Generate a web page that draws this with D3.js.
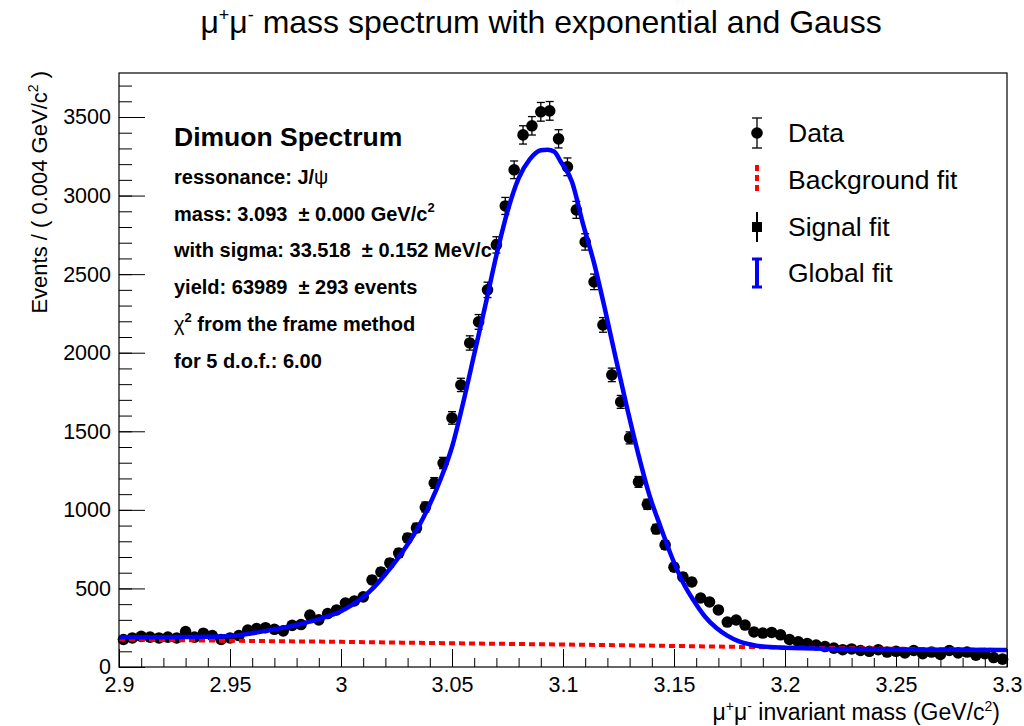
<!DOCTYPE html>
<html>
<head>
<meta charset="utf-8">
<script src="https://cdn.jsdelivr.net/npm/d3@7"></script>
<style>
  body { margin: 0; background: #fff; }
  svg { display: block; }
  text { font-family: "Liberation Sans", Arial, Helvetica, sans-serif; white-space: pre; }
</style>
</head>
<body>
<div id="chart"></div>
<script>
// binning of the histogram
const massRange = [2.9, 3.3];
const binWidth = 0.004;

// events per bin (100 bins)
const counts = [
  175, 185, 195, 190, 185, 190, 185, 225, 190, 215,
  200, 175, 185, 200, 235, 245, 250, 240, 230, 265,
  270, 330, 300, 340, 363, 407, 420, 446, 554, 605,
  662, 725, 821, 885, 1018, 1171, 1298, 1585, 1795, 2062,
  2196, 2400, 2686, 2934, 3164, 3386, 3444, 3533, 3539, 3361,
  3183, 2909, 2705, 2451, 2177, 1859, 1687, 1458, 1178, 1035,
  878, 777, 635, 573, 541, 439, 414, 363, 286, 299,
  267, 223, 216, 220, 205, 175, 160, 150, 140, 130,
  120, 110, 115, 105, 100, 110, 95, 100, 90, 105,
  85, 95, 80, 105, 90, 95, 75, 85, 60, 50
];

// global fit curve
const fitMass = [
  2.900, 2.920, 2.940, 2.950, 2.960, 2.970, 2.980, 2.990, 3.000, 3.005,
  3.010, 3.015, 3.020, 3.025, 3.030, 3.035, 3.040, 3.045, 3.050, 3.055,
  3.060, 3.065, 3.070, 3.075, 3.080, 3.085, 3.090, 3.093, 3.096, 3.099,
  3.104, 3.109, 3.114, 3.119, 3.124, 3.129, 3.134, 3.139, 3.144, 3.149,
  3.154, 3.159, 3.164, 3.169, 3.174, 3.179, 3.184, 3.190, 3.200, 3.220,
  3.250, 3.300
];
const fitValues = [
  190, 190, 192, 197, 215, 240, 268, 305, 355, 395,
  445, 510, 590, 680, 780, 895, 1035, 1200, 1400, 1680,
  1990, 2300, 2620, 2900, 3110, 3230, 3288, 3292, 3280, 3215,
  3090, 2820, 2570, 2270, 1950, 1640, 1350, 1090, 890, 700,
  540, 420, 320, 250, 200, 165, 145, 130, 122, 115,
  112, 108
];

// background (exponential) fit
const bkgMass = [2.9, 2.95, 3.0, 3.05, 3.1, 3.15, 3.2, 3.25, 3.3];
const bkgValues = [175, 167, 160, 151, 143, 134, 124, 116, 108];

const xTicks = [2.9, 2.95, 3.0, 3.05, 3.1, 3.15, 3.2, 3.25, 3.3];
const xTickLabels = ["2.9", "2.95", "3", "3.05", "3.1", "3.15", "3.2", "3.25", "3.3"];
const yTicks = [0, 500, 1000, 1500, 2000, 2500, 3000, 3500];

const legendLabels = ["Data", "Background fit", "Signal fit", "Global fit"];

const infoTitle = "Dimuon Spectrum";
const infoLines = [
  [["ressonance: J/", ""], ["\u03c8", "greek"]],
  [["mass: 3.093  \u00b1 0.000 GeV/c", ""], ["2", "sup"]],
  [["with sigma: 33.518  \u00b1 0.152 MeV/c", ""], ["2", "sup"]],
  [["yield: 63989  \u00b1 293 events", ""]],
  [["\u03c7", "greek"], ["2", "sup"], [" from the frame method", ""]],
  [["for 5 d.o.f.: 6.00", ""]]
];

const W = 1024, H = 726;
const frame = { left: 119, right: 1007, top: 73, bottom: 667 };

const svg = d3.select("#chart").append("svg")
  .attr("width", W)
  .attr("height", H);

svg.append("rect").attr("width", W).attr("height", H).attr("fill", "#fff");

const x = d3.scaleLinear().domain(massRange).range([frame.left, frame.right]);
const y = d3.scaleLinear().domain([0, 3780]).range([frame.bottom, frame.top]);

// title
const title = svg.append("text")
  .attr("x", 541)
  .attr("y", 33)
  .attr("text-anchor", "middle")
  .attr("font-size", 32)
  .attr("fill", "#000");
title.append("tspan").text("\u03bc");
title.append("tspan").attr("font-size", 18).attr("dy", -12).text("+");
title.append("tspan").attr("dy", 12).text("\u03bc");
title.append("tspan").attr("font-size", 18).attr("dy", -12).text("-");
title.append("tspan").attr("dy", 12).text(" mass spectrum with exponential and Gauss");

// axes (ticks point into the frame)
const xAxis = svg.append("g")
  .attr("transform", `translate(0,${frame.bottom})`)
  .call(d3.axisBottom(x).tickValues(xTicks).tickSize(-18).tickPadding(10)
    .tickFormat((d, i) => xTickLabels[i]));
svg.append("g")
  .attr("transform", `translate(0,${frame.bottom})`)
  .call(d3.axisBottom(x).ticks(40).tickSize(-9).tickFormat(""));

const yAxis = svg.append("g")
  .attr("transform", `translate(${frame.left},0)`)
  .call(d3.axisLeft(y).tickValues(yTicks).tickSize(-26).tickPadding(8).tickFormat(d3.format("d")));
svg.append("g")
  .attr("transform", `translate(${frame.left},0)`)
  .call(d3.axisLeft(y).tickValues(d3.range(0, 3701, 100)).tickSize(-13).tickFormat(""));

svg.selectAll(".domain").remove();
svg.selectAll(".tick line").attr("stroke", "#000").attr("stroke-width", 1);
xAxis.selectAll("text").attr("font-size", 21.5).attr("fill", "#000").attr("font-family", "Liberation Sans, Arial, sans-serif");
yAxis.selectAll("text").attr("font-size", 21.5).attr("fill", "#000").attr("font-family", "Liberation Sans, Arial, sans-serif");

// axis titles
const yTitle = svg.append("text")
  .attr("transform", `translate(47,71) rotate(-90)`)
  .attr("text-anchor", "end")
  .attr("font-size", 22)
  .attr("fill", "#000");
yTitle.append("tspan").text("Events / ( 0.004 GeV/c");
yTitle.append("tspan").attr("font-size", 14).attr("dy", -9).text("2");
yTitle.append("tspan").attr("dy", 9).text(" )");

const xTitle = svg.append("text")
  .attr("x", 1000)
  .attr("y", 720)
  .attr("text-anchor", "end")
  .attr("font-size", 23)
  .attr("fill", "#000");
xTitle.append("tspan").text("\u03bc");
xTitle.append("tspan").attr("font-size", 14).attr("dy", -9).text("+");
xTitle.append("tspan").attr("dy", 9).text("\u03bc");
xTitle.append("tspan").attr("font-size", 14).attr("dy", -9).text("-");
xTitle.append("tspan").attr("dy", 9).text(" invariant mass (GeV/c");
xTitle.append("tspan").attr("font-size", 14).attr("dy", -9).text("2");
xTitle.append("tspan").attr("dy", 9).text(")");

// data points with sqrt(N) error bars
const bins = counts.map((n, i) => ({
  m: massRange[0] + binWidth * (i + 0.5),
  n,
  err: Math.sqrt(n)
}));

const plot = svg.append("g");
const errs = plot.append("g").attr("stroke", "#000").attr("stroke-width", 1.3);
bins.forEach((b) => {
  const cx = x(b.m);
  errs.append("line").attr("x1", cx).attr("x2", cx)
    .attr("y1", y(b.n - b.err)).attr("y2", y(b.n + b.err));
  [b.n - b.err, b.n + b.err].forEach((v) => {
    errs.append("line").attr("x1", cx - 4).attr("x2", cx + 4)
      .attr("y1", y(v)).attr("y2", y(v));
  });
});
plot.append("g").selectAll("circle")
  .data(bins)
  .join("circle")
  .attr("cx", (d) => x(d.m))
  .attr("cy", (d) => y(d.n))
  .attr("r", 5.8)
  .attr("fill", "#000");

// background fit (red dashed)
const bkgLine = d3.line()
  .x((d, i) => x(bkgMass[i]))
  .y((d) => y(d))
  .curve(d3.curveMonotoneX);
plot.append("path")
  .attr("d", bkgLine(bkgValues))
  .attr("fill", "none")
  .attr("stroke", "#ff0000")
  .attr("stroke-width", 4)
  .attr("stroke-dasharray", "6 4");

// global fit (blue)
const fitLine = d3.line()
  .x((d, i) => x(fitMass[i]))
  .y((d) => y(d))
  .curve(d3.curveMonotoneX);
plot.append("path")
  .attr("d", fitLine(fitValues))
  .attr("fill", "none")
  .attr("stroke", "#0000ff")
  .attr("stroke-width", 4.5)
  .attr("stroke-linejoin", "round");

// frame
svg.append("rect")
  .attr("x", frame.left)
  .attr("y", frame.top)
  .attr("width", frame.right - frame.left)
  .attr("height", frame.bottom - frame.top)
  .attr("fill", "none")
  .attr("stroke", "#000")
  .attr("stroke-width", 1.2);

// info text
svg.append("text")
  .attr("x", 174)
  .attr("y", 146)
  .attr("font-size", 26.5)
  .attr("font-weight", "bold")
  .attr("fill", "#000")
  .text(infoTitle);

infoLines.forEach((segments, i) => {
  const t = svg.append("text")
    .attr("x", 174)
    .attr("y", 184 + i * 36.7)
    .attr("font-size", 20)
    .attr("font-weight", "bold")
    .attr("fill", "#000");
  let raised = false;
  segments.forEach(([txt, kind]) => {
    const span = t.append("tspan").text(txt);
    if (kind === "sup") {
      span.attr("font-size", 13).attr("dy", -9);
      raised = true;
    } else {
      if (raised) { span.attr("dy", 9); raised = false; }
      if (kind === "greek") span.attr("font-weight", "normal");
    }
  });
});

// legend
const legend = svg.append("g");
const lx = 757;
const rowY = [133, 180, 227, 273];

legend.append("line").attr("x1", lx).attr("x2", lx).attr("y1", rowY[0] - 15).attr("y2", rowY[0] + 15)
  .attr("stroke", "#000").attr("stroke-width", 1.3);
[rowY[0] - 15, rowY[0] + 15].forEach((v) => {
  legend.append("line").attr("x1", lx - 5).attr("x2", lx + 5).attr("y1", v).attr("y2", v)
    .attr("stroke", "#000").attr("stroke-width", 1.3);
});
legend.append("circle").attr("cx", lx).attr("cy", rowY[0]).attr("r", 5.8).attr("fill", "#000");

legend.append("line").attr("x1", lx).attr("x2", lx).attr("y1", rowY[1] - 15).attr("y2", rowY[1] + 15)
  .attr("stroke", "#ff0000").attr("stroke-width", 4).attr("stroke-dasharray", "6 4");

legend.append("line").attr("x1", lx).attr("x2", lx).attr("y1", rowY[2] - 15).attr("y2", rowY[2] + 15)
  .attr("stroke", "#000").attr("stroke-width", 2);
legend.append("rect").attr("x", lx - 5).attr("y", rowY[2] - 5).attr("width", 10).attr("height", 10).attr("fill", "#000");

legend.append("line").attr("x1", lx).attr("x2", lx).attr("y1", rowY[3] - 14).attr("y2", rowY[3] + 14)
  .attr("stroke", "#0000ff").attr("stroke-width", 4);
[rowY[3] - 14, rowY[3] + 14].forEach((v) => {
  legend.append("line").attr("x1", lx - 5).attr("x2", lx + 5).attr("y1", v).attr("y2", v)
    .attr("stroke", "#0000ff").attr("stroke-width", 3);
});

legendLabels.forEach((label, i) => {
  legend.append("text")
    .attr("x", 788)
    .attr("y", rowY[i] + 9)
    .attr("font-size", 26.5)
    .attr("fill", "#000")
    .text(label);
});
</script>
</body>
</html>
